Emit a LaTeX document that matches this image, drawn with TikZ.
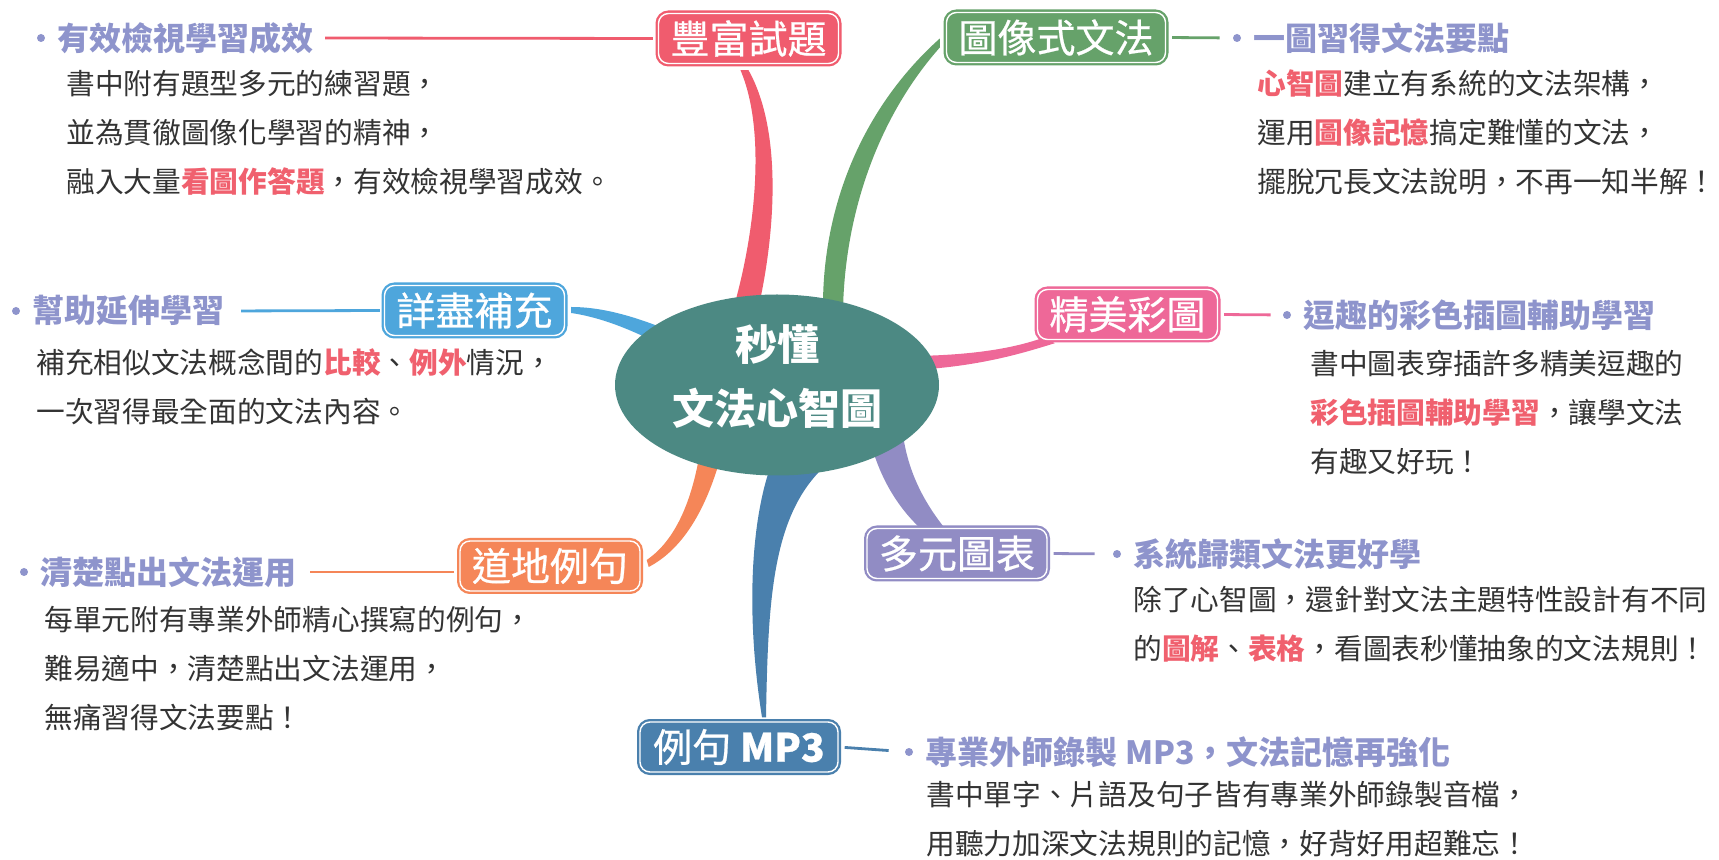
\documentclass[tikz,border=0pt]{standalone}
\usepackage{fontspec}
\setmainfont{Noto Sans CJK TC}
\newfontfamily\boxfont{Noto Sans CJK TC}[FakeBold=0.6]
\usetikzlibrary{shapes.geometric,positioning,calc,backgrounds}

\definecolor{redc}{HTML}{F05C6E}
\definecolor{greenc}{HTML}{66A26A}
\definecolor{pinkc}{HTML}{EE6898}
\definecolor{purplec}{HTML}{918CC4}
\definecolor{steelc}{HTML}{4A80AD}
\definecolor{orangec}{HTML}{F58658}
\definecolor{skyc}{HTML}{4EA6DC}
\definecolor{hubc}{HTML}{4C8983}
\definecolor{headc}{HTML}{8E94CC}
\definecolor{hlc}{HTML}{F0606E}
\definecolor{bodyc}{HTML}{333333}

\newcommand{\redword}[1]{\textcolor{hlc}{\bfseries #1}}

\tikzset{
  topic/.style={rounded corners=5pt, fill=#1, draw=white, line width=0.7pt,
    preaction={draw=#1, line width=3pt},
    text=white, inner xsep=6pt, inner ysep=0pt, minimum height=25pt,
    font=\fontsize{19.5pt}{20pt}\boxfont},
  link/.style={draw=#1, line width=1.4pt},
  hdot/.style={circle, fill=headc, inner sep=0pt, minimum size=4pt},
  head/.style={inner sep=0pt, text=headc, font=\fontsize{16pt}{16pt}\selectfont\bfseries},
  body/.style={inner sep=0pt, anchor=west, align=left, text=bodyc,
    font=\fontsize{14.35pt}{24.5pt}\selectfont},
}

\begin{document}
\begin{tikzpicture}[x=0.5pt, y=-0.5pt]
\useasboundingbox (0,0) rectangle (1719,860);

% centre and topics
\node[ellipse, fill=hubc, minimum width=162pt, minimum height=90.5pt, inner sep=0pt,
  text=white, align=center, font=\fontsize{21pt}{32pt}\selectfont\bfseries]
  (hub) at (777,385) {秒懂\\文法心智圖\rule[-10pt]{0pt}{0pt}};

\node[topic=redc] (q1) at (748.5,38.5) {豐富試題};
\node[topic=greenc] (q2) at (1056,37.5) {圖像式文法};
\node[topic=pinkc] (q3) at (1127.5,314.5) {精美彩圖};
\node[topic=purplec] (q4) at (957,553.5) {多元圖表};
\node[topic=steelc, minimum width=99pt] (q5) at (739,747) {例句 \textbf{MP3}};
\node[topic=orangec] (q6) at (550,566) {道地例句};
\node[topic=skyc] (q7) at (474.5,310.5) {詳盡補充};

% branches
\begin{scope}[on background layer]
\fill[white] (0,0) rectangle (1719,860);
\fill[redc] ($(hub)+(-44,-75)$) .. controls (756,230) and (766,130) .. ($(q1.south)+(-8,6)$)
  -- ($(q1.south)+(0,6)$) .. controls (782,130) and (776,230) .. ($(hub)+(-19,-75)$) -- cycle;
\fill[greenc] ($(hub)+(46,-75)$) .. controls (822,210) and (860,110) .. ($(q2.west)+(-6,1)$)
  -- ($(q2.west)+(-6,10)$) .. controls (880,115) and (845,210) .. ($(hub)+(66,-75)$) -- cycle;
\fill[pinkc] ($(hub)+(138,-29)$) .. controls (975,355) and (1015,348) .. ($(q3.south west)+(8,-3)$)
  -- ($(q3.south west)+(18,3)$) .. controls (1020,354) and (980,366) .. ($(hub)+(138,-15)$) -- cycle;
\fill[purplec] ($(hub)+(93,55)$) .. controls (880,480) and (900,510) .. ($(q4.north)+(-35,2)$)
  -- ($(q4.north)+(-11,2)$) .. controls (922,500) and (908,470) .. ($(hub)+(126,50)$) -- cycle;
\fill[steelc] ($(hub)+(-7,83)$) .. controls (752,520) and (745,610) .. ($(q5.north)+(23,-4)$)
  -- ($(q5.north)+(27,-4)$) .. controls (768,600) and (772,515) .. ($(hub)+(48,81)$) -- cycle;
\fill[orangec] ($(hub)+(-77,67)$) .. controls (692,500) and (676,540) .. ($(q6.east)+(6,-6)$)
  -- ($(q6.east)+(8,1)$) .. controls (685,548) and (708,505) .. ($(hub)+(-55,67)$) -- cycle;
\fill[skyc] ($(q7.east)+(6,-3.5)$) .. controls (605,307) and (640,318) .. ($(hub)+(-97,-50)$)
  -- ($(hub)+(-97,-30)$) .. controls (640,333) and (605,318) .. ($(q7.east)+(6,2.5)$) -- cycle;
\end{scope}

% notes
\node[hdot] (d1) at (41,38) {};
\node[head, right=6pt of d1] (h1) {有效檢視學習成效};
\draw[link=redc, shorten <=5.5pt, shorten >=2.5pt] (h1.east) -- (q1.west);
\node[body] (b1) at (66,132.5) {書中附有題型多元的練習題，\\並為貫徹圖像化學習的精神，\\融入大量\redword{看圖作答題}，有效檢視學習成效。};

\node[hdot] (d2) at (1237,38) {};
\node[head, right=6pt of d2] (h2) {一圖習得文法要點};
\draw[link=greenc, shorten <=3pt, shorten >=6.5pt] (q2.east) -- (d2);
\node[body] (b2) at (1257,132) {\redword{心智圖}建立有系統的文法架構，\\運用\redword{圖像記憶}搞定難懂的文法，\\擺脫冗長文法說明，不再一知半解！};

\node[hdot] (d3) at (1287,315) {};
\node[head, right=6pt of d3] (h3) {逗趣的彩色插圖輔助學習};
\draw[link=pinkc, shorten <=3pt, shorten >=6pt] (q3.east) -- (d3);
\node[body] (b3) at (1310,412.7) {書中圖表穿插許多精美逗趣的\\\redword{彩色插圖輔助學習}，讓學文法\\有趣又好玩！};

\node[hdot] (d4) at (1117,554) {};
\node[head, right=6pt of d4] (h4) {系統歸類文法更好學};
\draw[link=purplec, shorten <=3pt, shorten >=9pt] (q4.east) -- (d4);
\node[body] (b4) at (1133,624) {除了心智圖，還針對文法主題特性設計有不同\\的\redword{圖解}、\redword{表格}，看圖表秒懂抽象的文法規則！};

\node[hdot] (d5) at (909,752) {};
\node[head, right=6pt of d5] (h5) {專業外師錄製 MP3，文法記憶再強化};
\draw[link=steelc, shorten <=3pt, shorten >=8pt] (q5.east) -- (d5);
\node[body] (b5) at (926,819.5) {書中單字、片語及句子皆有專業外師錄製音檔，\\用聽力加深文法規則的記憶，好背好用超難忘！};

\node[hdot] (d6) at (24,572) {};
\node[head, right=6pt of d6] (h6) {清楚點出文法運用};
\draw[link=orangec, shorten <=6.5pt, shorten >=2.5pt] (h6.east) -- (h6.east -| q6.west);
\node[body] (b6) at (44,668.7) {每單元附有專業外師精心撰寫的例句，\\難易適中，清楚點出文法運用，\\無痛習得文法要點！};

\node[hdot] (d7) at (16,311) {};
\node[head, right=6pt of d7] (h7) {幫助延伸學習};
\draw[link=skyc, shorten <=8pt, shorten >=2pt] (h7.east) -- (q7.west);
\node[body] (b7) at (36,386.5) {補充相似文法概念間的\redword{比較}、\redword{例外}情況，\\一次習得最全面的文法內容。};
\end{tikzpicture}
\end{document}
